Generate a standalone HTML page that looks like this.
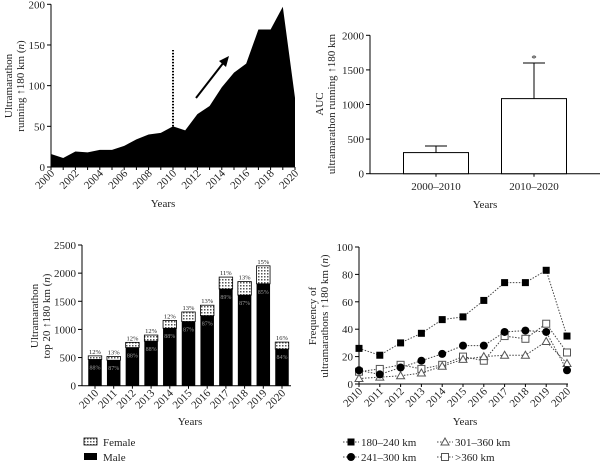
<!DOCTYPE html>
<html><head><meta charset="utf-8"><style>
body{margin:0;background:#fff}
svg{display:block;font-family:"Liberation Serif",serif;}
text{fill:#222}
</style></head><body>
<svg id="c" width="601" height="464" viewBox="0 0 601 464" xmlns="http://www.w3.org/2000/svg">
<defs>
<pattern id="dots" width="3" height="3" patternUnits="userSpaceOnUse"><rect width="3" height="3" fill="#fff"/><rect width="1.5" height="1.5" fill="#555"/></pattern>
</defs>
<g id="p1"></g>
<g id="p2"></g>
<g id="p3"></g>
<g id="p4"></g>
</svg>
<script>
// Panel A data
const yearsA = [2000,2001,2002,2003,2004,2005,2006,2007,2008,2009,2010,2011,2012,2013,2014,2015,2016,2017,2018,2019,2020];
const countsA = [16,11,19,18,21,21,26,34,40,42,50,45,65,75,98,116,127,169,169,197,85];
const ticksA = [0,50,100,150,200];
// Panel B data
const groupsB = ["2000–2010","2010–2020"];
const aucB = [305,1085];
const errB = [400,1600];
const ticksB = [0,500,1000,1500,2000];
// Panel C data
const yearsC = [2010,2011,2012,2013,2014,2015,2016,2017,2018,2019,2020];
const totalC = [530,520,770,900,1160,1310,1430,1930,1850,2130,775];
const femalePctC = [12,13,12,12,12,13,13,11,13,15,16];
const malePctC = [88,87,88,88,88,87,87,89,87,85,84];
const ticksC = [0,500,1000,1500,2000,2500];
// Panel D data
const yearsD = [2010,2011,2012,2013,2014,2015,2016,2017,2018,2019,2020];
const s180 = [26,21,30,37,47,49,61,74,74,83,35];
const s241 = [10,7,12,17,22,28,28,38,39,38,10];
const s301 = [4,5,6,8,13,18,20,21,21,31,15];
const s360 = [9,11,14,11,14,20,17,35,33,44,23];
const ticksD = [0,20,40,60,80,100];

const NS="http://www.w3.org/2000/svg";
function mk(parent,tag,attrs,txt){const e=document.createElementNS(NS,tag);for(const k in attrs)e.setAttribute(k,attrs[k]);if(txt!==undefined)e.textContent=txt;parent.appendChild(e);return e;}

// ---------- Panel A ----------
(function(){
const g=document.getElementById('p1');
const X=y=>51+(y-2000)*(295-51)/20, Y=v=>167-v*(167-4.3)/200;
let d=`M${X(yearsA[0])},${Y(0)}`;
yearsA.forEach((yr,i)=>d+=` L${X(yr)},${Y(countsA[i])}`);
d+=` L${X(yearsA[yearsA.length-1])},${Y(0)} Z`;
const a=mk(g,'path',{d:d,fill:'#000'});


mk(g,'line',{x1:51,y1:Y(0),x2:51,y2:Y(200),stroke:'#000'});
mk(g,'line',{x1:51,y1:Y(0),x2:295,y2:Y(0),stroke:'#000'});
ticksA.forEach(t=>{mk(g,'line',{x1:47,x2:51,y1:Y(t),y2:Y(t),stroke:'#000'});
const tt=mk(g,'text',{x:45,y:Y(t)+4,'text-anchor':'end','font-size':11},t);
});
yearsA.forEach(yr=>{mk(g,'line',{x1:X(yr),x2:X(yr),y1:Y(0),y2:Y(0)+3,stroke:'#000'});
if(yr%2===0){const tt=mk(g,'text',{x:X(yr)+4,y:Y(0)+7,'text-anchor':'end','font-size':11,transform:`rotate(-45 ${X(yr)+4} ${Y(0)+7})`},yr);
}});
mk(g,'line',{x1:X(2010),x2:X(2010),y1:Y(50),y2:50,stroke:'#000','stroke-width':2,'stroke-dasharray':'1.5,1.5'});
mk(g,'line',{x1:196,y1:98,x2:224,y2:62,stroke:'#000','stroke-width':2});
mk(g,'polygon',{points:'229,56 219,61 226,67',fill:'#000'});
mk(g,'text',{x:163,y:207,'text-anchor':'middle','font-size':11,},'Years');
const yl=mk(g,'text',{transform:'translate(12,86) rotate(-90)','text-anchor':'middle','font-size':11,});
mk(yl,'tspan',{x:0,y:0},'Ultramarathon');
const ts=mk(yl,'tspan',{x:0,y:12},'running ↑180 km (');mk(yl,'tspan',{'font-style':'italic'},'n');mk(yl,'tspan',{},')');
})();

// ---------- Panel B ----------
(function(){
const g=document.getElementById('p2');
const Y=v=>173.7-v*(173.7-35.3)/2000;
const cx=[436,534];
mk(g,'line',{x1:370,y1:Y(0),x2:370,y2:Y(2000),stroke:'#000'});
mk(g,'line',{x1:370,y1:Y(0),x2:600,y2:Y(0),stroke:'#000'});
ticksB.forEach(t=>{mk(g,'line',{x1:366,x2:370,y1:Y(t),y2:Y(t),stroke:'#000'});
const tt=mk(g,'text',{x:364,y:Y(t)+4,'text-anchor':'end','font-size':11},t);
});
groupsB.forEach((gname,i)=>{
mk(g,'line',{x1:cx[i],x2:cx[i],y1:Y(aucB[i]),y2:Y(errB[i]),stroke:'#000'});
mk(g,'line',{x1:cx[i]-11,x2:cx[i]+11,y1:Y(errB[i]),y2:Y(errB[i]),stroke:'#000'});
const b=mk(g,'rect',{x:cx[i]-32.5,y:Y(aucB[i]),width:65,height:Y(0)-Y(aucB[i]),fill:'#fff',stroke:'#000'});

mk(g,'line',{x1:cx[i],x2:cx[i],y1:Y(0),y2:Y(0)+3,stroke:'#000'});
const tt=mk(g,'text',{x:cx[i],y:190,'text-anchor':'middle','font-size':11},gname);

});
mk(g,'text',{x:cx[1],y:Y(errB[1])-1,'text-anchor':'middle','font-size':11,},'*');
mk(g,'text',{x:485,y:208,'text-anchor':'middle','font-size':11,},'Years');
const yl=mk(g,'text',{transform:'translate(323,104) rotate(-90)','text-anchor':'middle','font-size':11,});
mk(yl,'tspan',{x:0,y:0},'AUC');mk(yl,'tspan',{x:0,y:12},'ultramarathon running ↑180 km');
})();

// ---------- Panel C ----------
(function(){
const g=document.getElementById('p3');
const X=y=>95+(y-2010)*18.7, Y=v=>385.7-v*(385.7-245)/2500;
mk(g,'line',{x1:82,y1:Y(0),x2:82,y2:Y(2500),stroke:'#000'});
mk(g,'line',{x1:82,y1:Y(0),x2:291,y2:Y(0),stroke:'#000'});
ticksC.forEach(t=>{mk(g,'line',{x1:78,x2:82,y1:Y(t),y2:Y(t),stroke:'#000'});
const tt=mk(g,'text',{x:76,y:Y(t)+4,'text-anchor':'end','font-size':11},t);
});
yearsC.forEach((yr,i)=>{
const male=totalC[i]*malePctC[i]/100;
const x=X(yr)-6.75;
const m=mk(g,'rect',{x:x,y:Y(male),width:13.5,height:Y(0)-Y(male),fill:'#000'});

const f=mk(g,'rect',{x:x,y:Y(totalC[i]),width:13.5,height:Y(male)-Y(totalC[i]),fill:'url(#dots)',stroke:'#000','stroke-width':0.8});

mk(g,'text',{x:X(yr),y:Y(totalC[i])-2,'text-anchor':'middle','font-size':6.5},femalePctC[i]+'%');
mk(g,'text',{x:X(yr),y:Y(male)+10,'text-anchor':'middle','font-size':6,style:'fill:#999'},malePctC[i]+'%');
mk(g,'line',{x1:X(yr),x2:X(yr),y1:Y(0),y2:Y(0)+3,stroke:'#000'});
const tt=mk(g,'text',{x:X(yr)+4,y:Y(0)+8,'text-anchor':'end','font-size':11,transform:`rotate(-45 ${X(yr)+4} ${Y(0)+8})`},yr);

});
mk(g,'text',{x:190,y:425,'text-anchor':'middle','font-size':11,},'Years');
const yl=mk(g,'text',{transform:'translate(38,316) rotate(-90)','text-anchor':'middle','font-size':11,});
mk(yl,'tspan',{x:0,y:0},'Ultramarathon');mk(yl,'tspan',{x:0,y:12},'top 20 ↑180 km (');mk(yl,'tspan',{'font-style':'italic'},'n');mk(yl,'tspan',{},')');
const lf=mk(g,'g',{});
mk(lf,'rect',{x:84,y:438,width:13,height:7,fill:'url(#dots)',stroke:'#000','stroke-width':0.8});
mk(lf,'text',{x:103,y:446,'font-size':11},'Female');
const lm=mk(g,'g',{});
mk(lm,'rect',{x:84,y:453,width:13,height:7,fill:'#000'});
mk(lm,'text',{x:103,y:461,'font-size':11},'Male');
})();

// ---------- Panel D ----------
(function(){
const g=document.getElementById('p4');
const X=y=>359+(y-2010)*20.8, Y=v=>384-v*(384-247)/100;
mk(g,'line',{x1:359,y1:Y(0),x2:359,y2:Y(100),stroke:'#000'});
mk(g,'line',{x1:359,y1:Y(0),x2:568,y2:Y(0),stroke:'#000'});
ticksD.forEach(t=>{mk(g,'line',{x1:355,x2:359,y1:Y(t),y2:Y(t),stroke:'#000'});
const tt=mk(g,'text',{x:353,y:Y(t)+4,'text-anchor':'end','font-size':11},t);
});
yearsD.forEach(yr=>{mk(g,'line',{x1:X(yr),x2:X(yr),y1:Y(0),y2:Y(0)+3,stroke:'#000'});
const tt=mk(g,'text',{x:X(yr)+4,y:Y(0)+8,'text-anchor':'end','font-size':11,transform:`rotate(-45 ${X(yr)+4} ${Y(0)+8})`},yr);
});
function marker(p,type,x,y){
if(type==='sq')mk(p,'rect',{x:x-3.5,y:y-3.5,width:7,height:7,fill:'#000'});
else if(type==='ci')mk(p,'circle',{cx:x,cy:y,r:4,fill:'#000'});
else if(type==='tri')mk(p,'polygon',{points:`${x},${y-4} ${x-4},${y+3} ${x+4},${y+3}`,fill:'#fff',stroke:'#555'});
else mk(p,'rect',{x:x-3.5,y:y-3.5,width:7,height:7,fill:'#fff',stroke:'#555'});
}
const series=[[s360,'osq','series-over-360km'],[s301,'tri','series-301-360km'],[s241,'ci','series-241-300km'],[s180,'sq','series-180-240km']];
series.forEach(([vals,type,name])=>{
const sg=mk(g,'g',{});

mk(sg,'polyline',{points:vals.map((v,i)=>X(yearsD[i])+','+Y(v)).join(' '),fill:'none',stroke:'#444','stroke-dasharray':'1.5,1.5'});
vals.forEach((v,i)=>marker(sg,type,X(yearsD[i]),Y(v)));
});
mk(g,'text',{x:465,y:425,'text-anchor':'middle','font-size':11,},'Years');
const yl=mk(g,'text',{transform:'translate(316,316) rotate(-90)','text-anchor':'middle','font-size':11,});
mk(yl,'tspan',{x:0,y:0},'Frequency of');mk(yl,'tspan',{x:0,y:12},'ultramarathons ↑180 km (');mk(yl,'tspan',{'font-style':'italic'},'n');mk(yl,'tspan',{},')');
const leg=[[343,442,'sq','180–240 km'],[343,457,'ci','241–300 km'],[437,442,'tri','301–360 km'],[437,457,'osq','>360 km']];
leg.forEach(([x,y,type,lab])=>{
const lg=mk(g,'g',{});

mk(lg,'line',{x1:x,x2:x+16,y1:y,y2:y,stroke:'#444','stroke-dasharray':'1.5,1.5'});
marker(lg,type,x+8,y);
mk(lg,'text',{x:x+18,y:y+4,'font-size':11},lab);
});
})();
</script>
</body></html>
